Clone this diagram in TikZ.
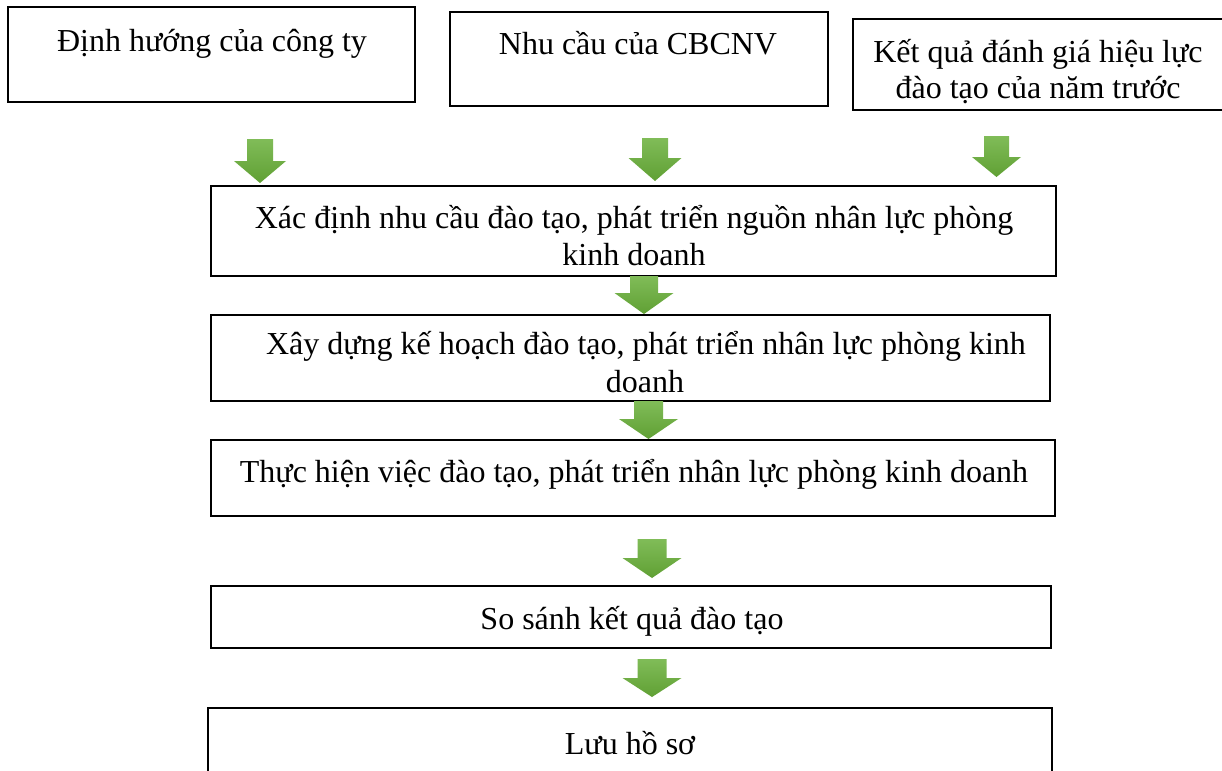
\documentclass[tikz,border=0pt]{standalone}
\usepackage{fontspec}
\setmainfont{Liberation Serif}
\usetikzlibrary{fit}

\definecolor{arrtop}{RGB}{128,188,88}
\definecolor{arrbot}{RGB}{96,160,52}

\tikzset{
  box/.style={draw=black, line width=1.3pt, inner sep=0pt, fill=white},
  lbl/.style={anchor=base, inner sep=0pt, font=\fontsize{24}{28}\selectfont},
  arrowfill/.style={top color=arrtop, bottom color=arrbot, draw=none}
}

% block arrow: centre x, top y, head start y, tip y, shaft half width, head half width
\newcommand\greenarrow[6]{%
  \shade[arrowfill] ({#1-#5},#2) -- ({#1+#5},#2) -- ({#1+#5},#3) -- ({#1+#6},#3)
    -- (#1,#4) -- ({#1-#6},#3) -- ({#1-#5},#3) -- cycle;}

\begin{document}
\begin{tikzpicture}[x=0.75pt, y=-0.75pt]
  \useasboundingbox (0,0) rectangle (1222,771);
  \fill[white] (0,0) rectangle (1222,771);

  % input boxes
  \node[box, fit={(8,7) (415,102)}] (tl) {};
  \node[box, fit={(450,12) (828,106)}] (tm) {};
  \node[box, fit={(853,19) (1232,110)}] (tr) {};

  \node[lbl] (ttl) at (212,51) {Định hướng của công ty};
  \node[lbl] (ttm) at (638,54) {Nhu cầu của CBCNV};
  \node[lbl] (ttr1) at (1038,62) {Kết quả đánh giá hiệu lực};
  \node[lbl] (ttr2) at (1038,98) {đào tạo của năm trước};

  % process steps
  \node[box, fit={(211,186) (1056,276)}] (b4) {};
  \node[box, fit={(211,315) (1050,401)}] (b5) {};
  \node[box, fit={(211,440) (1055,516)}] (b6) {};
  \node[box, fit={(211,586) (1051,648)}] (b7) {};
  \node[box, fit={(208,708) (1052,800)}] (b8) {};

  \node[lbl] (t4a) at (634,228) {Xác định nhu cầu đào tạo, phát triển nguồn nhân lực phòng};
  \node[lbl] (t4b) at (634,265) {kinh doanh};
  \node[lbl] (t5a) at (646,354) {Xây dựng kế hoạch đào tạo, phát triển nhân lực phòng kinh};
  \node[lbl] (t5b) at (645,392) {doanh};
  \node[lbl] (t6) at (634,482) {Thực hiện việc đào tạo, phát triển nhân lực phòng kinh doanh};
  \node[lbl] (t7) at (632,629) {So sánh kết quả đào tạo};
  \node[lbl] (t8) at (630,754) {Lưu hồ sơ};

  % green block arrows
  \greenarrow{260}{139}{161}{183}{13}{26}
  \greenarrow{655}{138}{158}{181}{13}{26.5}
  \greenarrow{996.5}{136}{157}{177}{12.5}{24.5}
  \greenarrow{644}{276}{293}{314}{14}{29.5}
  \greenarrow{648.5}{401}{419}{439}{14.5}{29.5}
  \greenarrow{652}{539}{558}{578}{14.5}{29.5}
  \greenarrow{652}{659}{678}{697}{14.5}{29.5}
\end{tikzpicture}
\end{document}
